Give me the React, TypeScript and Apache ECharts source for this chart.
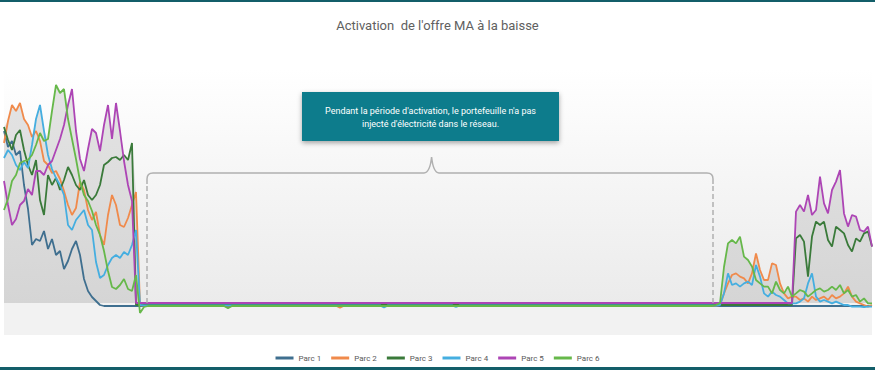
import React, { useEffect, useRef } from "react";
import * as echarts from "echarts";

// ---------- DATA ----------
const seriesNames = ["Parc 1", "Parc 2", "Parc 3", "Parc 4", "Parc 5", "Parc 6"];
const seriesColors = ["#3f6f8f", "#f08a4b", "#3a7a3a", "#45aee0", "#ad45b5", "#66b84a"];

const chartTitle = "Activation  de l'offre MA à la baisse";
const noteLines = [
  "Pendant la période d'activation, le portefeuille n'a pas",
  "injecté d'électricité dans le réseau.",
];

// time index of the first value of each segment
const leftStart = 0;
const rightStart = 178;
const xMax = 217;

// before activation (index 0..34)
const parc1Left = [86, 78, 81, 74, 76, 59, 47, 29, 32, 31, 36, 27, 32, 24, 26, 17, 21, 27, 31, 24, 12, 6, 3, 1, -1, -1.5, -1.5, -1.5, -1.5, -1.5, -1.5, -1.5, -1.5, -1.5, -1.5];
const parc2Left = [80, 91, 99, 96, 100, 92, 89, 83, 86, 81, 71, 69, 65, 66, 62, 56, 49, 44, 47.5, 60.5, 56.5, 46.5, 41.5, 45.5, 34, 29, 44, 54, 49, 39, 38, 42.5, 49, 55.5, -1];
const parc3Left = [88, 81.5, 76.5, 84, 86.5, 76.5, 69, 64, 71.5, 51.5, 44, 64, 59, 62.5, 56.5, 61.5, 68, 64, 59, 56.5, 61.5, 54, 51.5, 54, 59, 69, 70.5, 72.5, 73, 71.5, 74, 71.5, 80, -1, -1];
const parc4Left = [72.5, 76.5, 74, 69, 66.5, 70.5, 67.5, 79, 92, 99, 86, 74, 67, 62.5, 59, 54, 39, 36.5, 41.5, 44, 46.5, 39, 36.5, 20.5, 12.5, 14, 19, 22.5, 24, 22.5, 25.5, 24, 29, 36.5, -1];
const parc5Left = [61, 49, 39, 42, 49, 51, 57, 54, 66, 66, 64, 69, 71, 76.5, 82, 89, 99, 107, 86, 72, 66, 77, 87, 85, 76, 89, 99, 82, 100, 86, 71, 59, 51, 0, 0];
const parc6Left = [46.5, 52, 61, 64, 70, 71, 71.5, 74, 79, 85, 81, 82, 96, 109, 105, 107, 92, 82, 72, 61, 54, 51, 46, 39, 34, 26, 16, 8, 7, 9, 12, 7, 6, 14, -5];

// during activation: sparse [index, value] points
const parc1Mid = [[35, -1.5], [177, -1.5]];
const parc2Mid = [[35, -1.3], [83, -1.3], [84, -2.3], [85, -1.3], [177, -1.3]];
const parc3Mid = [[35, -1], [177, -1]];
const parc4Mid = [[35, -1.2], [94, -1.2], [95, -2.2], [96, -1.2], [112, -1.2], [113, -2], [114, -1.2], [177, -1.2]];
const parc5Mid = [[35, 0], [177, 0]];
const parc6Mid = [[35, -2], [36, -1.5], [55, -1.5], [56, -2.6], [57, -1.5], [177, -1.5]];

// after activation (index 178..217)
const parc1Right = [-1.5, -1.5, -1.5, -1.5, -1.5, -1.5, -1.5, -1.5, -1.5, -1.5, -1.5, -1.5, -1.5, -1.5, -1.5, -1.5, -1.5, -1.5, -1.5, -1.5, -1.5, -1.5, -1.5, -1.5, -1.5, -1.5, -1.5, -1.5, -1.5, -1.5, -1.5, -1.5, -1.5, -1.5, -1.5, -1.5, -1.5, -1.5, -1.5, -1.5];
const parc2Right = [-1.3, -1, 4.8, 9.8, 14, 14.8, 13.2, 12.3, 9.8, 14.8, 24.8, 16.5, 11.5, 11.5, 19.8, 19, 9.8, 4.8, 2.3, 3.2, 3.2, 1.5, 2.3, 0.7, 3.2, 1.5, 2.3, 3.2, 1.5, 4, 2.3, 3.2, 4.8, 8.2, 3.2, 0.7, -0.2, -1, -1.8, -1];
const parc3Right = [-1, -1, -1, -1, -1, -1, -1, -1, -1, -1, -1, -1, -1, -1, -1, -1, -1, -1, -1, -1, 32.3, 34, 30.7, 13.2, 33.2, 40.7, 39, 40.7, 31.5, 28.2, 38.2, 36.5, 34.8, 29, 25.7, 32.3, 30.7, 34.8, 35.7, 28.2];
const parc4Right = [-1.3, -1, 4.8, 14.8, 9, 9.8, 8.2, 9.8, 10.7, 9, 19, 13.2, 4.8, 3.2, 5.7, 4, 3.2, 1.5, -0.2, -0.2, -0.2, 0.7, 2.3, 9.8, 14.8, 3.2, 0.7, 1.5, 0.7, -0.2, 0.7, -0.2, -1, -1, -1.8, -1.8, -1.8, -2, -1.8, -1.8];
const parc5Right = [0, 0, 0, 0, 0, 0, 0, 0, 0, 0, 0, 0, 0, 0, 0, 0, 0, 0, 0, 0, 45.7, 49, 45.7, 54, 44, 46.5, 63.2, 49.8, 44.8, 56.5, 60.7, 66.5, 44.8, 38.2, 44, 43.2, 36.5, 35.7, 38.2, 28.2];
const parc6Right = [-1, 0, 18, 29.8, 31.5, 29.8, 33.2, 23.2, 21.5, 18.2, 11.5, 9.8, 8.2, 8.2, 4.8, 10.7, 6.5, 4.8, 8.2, 3.2, 4.8, 6.5, 5.7, 3.2, 4.8, 6.5, 7.3, 5.7, 6.5, 8.2, 6.5, 9, 4.8, 6.5, 3.2, 4, 0.7, 2.3, -0.2, -0.2];

const lefts = [parc1Left, parc2Left, parc3Left, parc4Left, parc5Left, parc6Left];
const mids = [parc1Mid, parc2Mid, parc3Mid, parc4Mid, parc5Mid, parc6Mid];
const rights = [parc1Right, parc2Right, parc3Right, parc4Right, parc5Right, parc6Right];

// ---------- BUILD ----------
function buildSeriesData(left: number[], mid: number[][], right: number[]) {
  return [
    ...left.map((v, i) => [leftStart + i, v]),
    ...mid,
    ...right.map((v, i) => [rightStart + i, v]),
  ];
}

function envelope(arrs: number[][], start: number) {
  return arrs[0].map((_, i) => [start + i, Math.max(...arrs.map((a) => a[i]))]);
}

const bracePath =
  "M147 184 L147 179 Q147 173 153 173 L424 173 Q430 172.5 431.6 157 Q433.2 172.5 439 173 L707 173 Q713 173 713 179 L713 184";
echarts.graphic.registerShape("brace", echarts.graphic.extendPath(bracePath, {}));

export default function App() {
  const ref = useRef<HTMLDivElement>(null);

  useEffect(() => {
    if (!ref.current) return;
    const chart = echarts.init(ref.current, undefined, { renderer: "svg" });

    const envData = [...envelope(lefts, leftStart), ...envelope(rights, rightStart)];

    const lineSeries = seriesNames.map((name, k) => ({
      name,
      type: "line",
      data: buildSeriesData(lefts[k], mids[k], rights[k]),
      showSymbol: false,
      symbol: "none",
      color: seriesColors[k],
      lineStyle: { width: 1.8, color: seriesColors[k] },
      z: 3,
    }));

    chart.setOption({
      animation: false,
      title: {
        text: chartTitle,
        left: "center",
        top: 14,
        textStyle: { fontFamily: "Roboto", fontSize: 13, fontWeight: "normal", color: "#606060" },
      },
      legend: {
        data: seriesNames,
        top: 349,
        left: "center",
        icon: "rect",
        itemWidth: 18,
        itemHeight: 3,
        itemGap: 10,
        textStyle: { fontFamily: "Roboto", fontSize: 8, color: "#595959" },
      },
      grid: {
        left: 4,
        right: 3,
        top: 69,
        height: 266,
        show: true,
        borderWidth: 0,
        backgroundColor: new echarts.graphic.LinearGradient(0, 0, 0, 1, [
          { offset: 0, color: "#ffffff" },
          { offset: 0.879, color: "#ebebeb" },
          { offset: 0.881, color: "#f2f2f2" },
          { offset: 1, color: "#f2f2f2" },
        ]),
      },
      xAxis: { type: "value", min: 0, max: xMax, show: false },
      yAxis: { type: "value", min: -16, max: 117, show: false, splitLine: { show: false } },
      series: [
        {
          name: "envelope",
          type: "line",
          data: envData,
          showSymbol: false,
          symbol: "none",
          silent: true,
          lineStyle: { width: 0, opacity: 0 },
          areaStyle: {
            color: new echarts.graphic.LinearGradient(0, 0, 0, 1, [
              { offset: 0, color: "#e4e4e4" },
              { offset: 1, color: "#d5d5d5" },
            ]),
            opacity: 1,
          },
          z: 1,
        },
        ...lineSeries,
      ],
      graphic: [
        { type: "rect", z: 100, shape: { x: 0, y: 0, width: 875, height: 2 }, style: { fill: "#135e69" } },
        { type: "rect", z: 100, shape: { x: 0, y: 367, width: 875, height: 3 }, style: { fill: "#135e69" } },
        {
          type: "rect",
          z: 50,
          shape: { x: 302, y: 92, width: 257, height: 49 },
          style: {
            fill: "#0c7b8c",
            shadowBlur: 5,
            shadowColor: "rgba(0,0,0,0.35)",
            shadowOffsetY: 2,
          },
        },
        {
          type: "text",
          z: 51,
          x: 430.5,
          y: 111,
          style: {
            text: noteLines[0],
            fill: "#ffffff",
            fontFamily: "Roboto",
            fontSize: 9,
            align: "center",
            verticalAlign: "middle",
          },
        },
        {
          type: "text",
          z: 51,
          x: 430.5,
          y: 124,
          style: {
            text: noteLines[1],
            fill: "#ffffff",
            fontFamily: "Roboto",
            fontSize: 9,
            align: "center",
            verticalAlign: "middle",
          },
        },
        {
          type: "brace",
          z: 40,
          x: 0,
          y: 0,
          scaleX: 1,
          scaleY: 1,
          style: { fill: "none", stroke: "#b0b0b0", lineWidth: 1.5 },
        },
        {
          type: "line",
          z: 40,
          shape: { x1: 147, y1: 186, x2: 147, y2: 303 },
          style: { stroke: "#b0b0b0", lineWidth: 1.5, lineDash: [5, 3] },
        },
        {
          type: "line",
          z: 40,
          shape: { x1: 713, y1: 186, x2: 713, y2: 303 },
          style: { stroke: "#b0b0b0", lineWidth: 1.5, lineDash: [5, 3] },
        },
      ],
    });

    return () => chart.dispose();
  }, []);

  return (
    <div
      ref={ref}
      style={{ position: "absolute", left: 0, top: 0, width: 875, height: 370, background: "#ffffff" }}
    />
  );
}
